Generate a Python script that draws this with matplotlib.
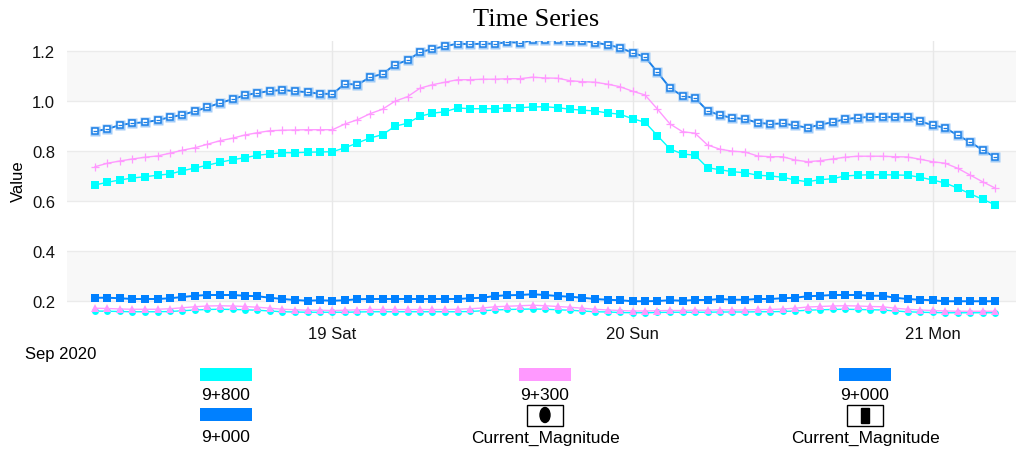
import pandas as pd
import matplotlib
matplotlib.use('Agg')
import matplotlib.pyplot as plt
from matplotlib.patches import Rectangle, Ellipse

plt.rcParams['font.family'] = ['Liberation Sans', 'DejaVu Sans']

# hourly readings, 18 Sep 05:00 -> 21 Sep 05:00
times = pd.date_range('2020-09-18 05:00', periods=73, freq='h')

s9800_top = [0.664, 0.675, 0.684, 0.692, 0.697, 0.703, 0.708, 0.721, 0.732, 0.743,
             0.755, 0.765, 0.773, 0.783, 0.788, 0.793, 0.793, 0.795, 0.796, 0.797,
             0.813, 0.832, 0.852, 0.865, 0.899, 0.911, 0.939, 0.951, 0.957, 0.972,
             0.969, 0.969, 0.969, 0.973, 0.973, 0.976, 0.977, 0.973, 0.967, 0.963,
             0.960, 0.952, 0.947, 0.929, 0.915, 0.861, 0.808, 0.788, 0.783, 0.733,
             0.725, 0.717, 0.713, 0.703, 0.700, 0.695, 0.684, 0.677, 0.685, 0.689,
             0.700, 0.703, 0.705, 0.705, 0.704, 0.703, 0.695, 0.684, 0.672, 0.652,
             0.629, 0.607, 0.585]
s9300_top = [0.737, 0.751, 0.760, 0.768, 0.775, 0.780, 0.791, 0.803, 0.813, 0.827,
             0.841, 0.851, 0.864, 0.873, 0.881, 0.883, 0.884, 0.885, 0.885, 0.885,
             0.908, 0.925, 0.949, 0.967, 0.999, 1.017, 1.051, 1.065, 1.075, 1.085,
             1.085, 1.087, 1.087, 1.089, 1.089, 1.095, 1.092, 1.091, 1.081, 1.077,
             1.075, 1.067, 1.057, 1.039, 1.024, 0.967, 0.908, 0.877, 0.871, 0.824,
             0.807, 0.799, 0.796, 0.780, 0.777, 0.777, 0.764, 0.757, 0.761, 0.768,
             0.775, 0.779, 0.779, 0.779, 0.777, 0.776, 0.767, 0.757, 0.751, 0.731,
             0.704, 0.677, 0.652]
s9000_top = [0.879, 0.888, 0.904, 0.911, 0.915, 0.923, 0.935, 0.945, 0.959, 0.975,
             0.992, 1.007, 1.023, 1.032, 1.040, 1.044, 1.039, 1.035, 1.029, 1.028,
             1.069, 1.065, 1.095, 1.108, 1.145, 1.163, 1.195, 1.208, 1.219, 1.229,
             1.227, 1.229, 1.229, 1.235, 1.233, 1.242, 1.242, 1.244, 1.241, 1.241,
             1.233, 1.225, 1.213, 1.193, 1.176, 1.115, 1.052, 1.020, 1.012, 0.961,
             0.943, 0.932, 0.928, 0.913, 0.908, 0.910, 0.902, 0.893, 0.905, 0.915,
             0.927, 0.933, 0.936, 0.936, 0.935, 0.935, 0.919, 0.903, 0.893, 0.863,
             0.836, 0.804, 0.775]
s9000_low = [0.213, 0.213, 0.211, 0.208, 0.208, 0.208, 0.211, 0.216, 0.221, 0.224,
             0.224, 0.224, 0.221, 0.219, 0.213, 0.208, 0.204, 0.201, 0.203, 0.201,
             0.203, 0.207, 0.208, 0.208, 0.208, 0.208, 0.208, 0.208, 0.208, 0.208,
             0.211, 0.213, 0.220, 0.223, 0.224, 0.227, 0.224, 0.220, 0.217, 0.213,
             0.208, 0.205, 0.203, 0.199, 0.199, 0.200, 0.203, 0.201, 0.204, 0.204,
             0.208, 0.205, 0.205, 0.208, 0.208, 0.211, 0.213, 0.219, 0.221, 0.224,
             0.224, 0.224, 0.221, 0.221, 0.213, 0.208, 0.205, 0.203, 0.199, 0.199,
             0.199, 0.199, 0.199]
s9300_low = [0.171, 0.170, 0.168, 0.167, 0.167, 0.167, 0.169, 0.173, 0.177, 0.180,
             0.181, 0.180, 0.178, 0.175, 0.171, 0.167, 0.165, 0.163, 0.163, 0.162,
             0.163, 0.165, 0.166, 0.166, 0.166, 0.166, 0.166, 0.166, 0.166, 0.167,
             0.169, 0.172, 0.177, 0.179, 0.181, 0.183, 0.181, 0.178, 0.175, 0.171,
             0.167, 0.164, 0.162, 0.160, 0.160, 0.161, 0.162, 0.162, 0.163, 0.163,
             0.165, 0.164, 0.164, 0.166, 0.166, 0.168, 0.171, 0.176, 0.178, 0.180,
             0.181, 0.180, 0.178, 0.177, 0.171, 0.167, 0.164, 0.162, 0.160, 0.159,
             0.159, 0.159, 0.159]
s9800_low = [0.160, 0.159, 0.158, 0.157, 0.157, 0.157, 0.158, 0.161, 0.164, 0.166,
             0.167, 0.166, 0.165, 0.163, 0.160, 0.157, 0.156, 0.155, 0.155, 0.155,
             0.155, 0.156, 0.157, 0.157, 0.157, 0.157, 0.157, 0.157, 0.157, 0.157,
             0.158, 0.161, 0.164, 0.166, 0.167, 0.168, 0.167, 0.165, 0.163, 0.160,
             0.157, 0.156, 0.154, 0.153, 0.153, 0.154, 0.155, 0.155, 0.155, 0.155,
             0.156, 0.156, 0.156, 0.157, 0.157, 0.158, 0.160, 0.163, 0.165, 0.166,
             0.167, 0.166, 0.165, 0.164, 0.160, 0.157, 0.155, 0.154, 0.153, 0.153,
             0.153, 0.153, 0.153]

day_ticks = ['2020-09-19', '2020-09-20', '2020-09-21']
day_labels = ['19 Sat', '20 Sun', '21 Mon']
y_ticks = [0.2, 0.4, 0.6, 0.8, 1.0, 1.2]
legend_labels = ['9+800', '9+300', '9+000', '9+000', 'Current_Magnitude', 'Current_Magnitude']

CYAN = '#00ffff'
PINK = '#ff99ff'
BLUE = '#0080ff'

fig = plt.figure(figsize=(10.16, 4.52), dpi=100)
ax = fig.add_axes([67 / 1016, 1 - 320 / 452, 949 / 1016, 278.3 / 452])

# striped background
for lo in [0.2, 0.6, 1.0]:
    ax.axhspan(lo, lo + 0.2, color='#f8f8f8', zorder=0, lw=0)
for yv in y_ticks:
    ax.axhline(yv, color='#ebebeb', lw=1, zorder=0.5)
for d in day_ticks:
    ax.axvline(pd.Timestamp(d), color='#e8e8e8', lw=1, zorder=0.5)

# upper group
ax.plot(times, s9800_top, color=CYAN, lw=1, marker='s', ms=5.6, mew=0, zorder=3)
ax.plot(times, s9300_top, color=PINK, lw=1, marker='+', ms=6, mew=0.9, zorder=3)
ax.plot(times, s9000_top, color='#1a80e8', lw=1.4, zorder=3)
ax.plot(times, s9000_top, ls='none', marker='s', ms=6.6, mfc='#8cc0f5', mec='none', alpha=0.8, zorder=3)
ax.plot(times, s9000_top, ls='none', marker='s', ms=4.8, mfc='white', mec='#1a7fe6', mew=1.1, zorder=4)
ax.plot(times, s9000_top, ls='none', marker='_', ms=3, mec='#1a7fe6', mew=0.9, zorder=4)

# lower group
ax.plot(times, s9000_low, color=BLUE, lw=1.4, marker='s', ms=5.4, mew=0, zorder=3)
ax.plot(times, s9800_low, color=CYAN, lw=1, marker='o', ms=5, mew=0, zorder=3)
ax.plot(times, s9300_low, color=PINK, lw=1, marker='^', ms=6.2, mew=0, zorder=3)

start = times[0]
ax.set_xlim(start - pd.Timedelta(hours=2.24), start + pd.Timedelta(hours=73.68))
ax.set_ylim(0.128, 1.241)
ax.set_yticks(y_ticks)
ax.set_yticklabels(['%.1f' % v for v in y_ticks])
ax.set_xticks([pd.Timestamp(d) for d in day_ticks])
ax.set_xticklabels(day_labels)
ax.tick_params(axis='both', length=0, labelsize=12, colors='#111111')
ax.tick_params(axis='y', pad=8.5)
ax.tick_params(axis='x', pad=5)
for sp in ax.spines.values():
    sp.set_visible(False)
ax.set_ylabel('Value', fontsize=12, va='center')
ax.yaxis.set_label_coords(-0.0516, 0.5)

fig.text(536 / 1016, 1 - 20 / 452, 'Time Series', family='Liberation Serif',
         fontsize=19, ha='center', va='center')
fig.text(25 / 1016, 1 - 355 / 452, 'Sep 2020', fontsize=12, ha='left', va='center')

# legend drawn in pixel space
lg = fig.add_axes([0, 0, 1, 1], facecolor='none')
lg.set_xlim(0, 1016)
lg.set_ylim(452, 0)
lg.axis('off')
cols = [226, 545, 865]
patch_colors = [CYAN, PINK, BLUE, BLUE]
for i, lab in enumerate(legend_labels):
    cx = cols[i % 3]
    row = i // 3
    py = 375.5 if row == 0 else 415.5
    ty = 396 if row == 0 else 438
    if i < 4:
        lg.add_patch(Rectangle((cx - 26, py - 6.5), 52, 13, color=patch_colors[i], lw=0))
    else:
        lg.add_patch(Rectangle((cx - 18, py - 10), 36, 21, fc='white', ec='black', lw=1))
        if i == 4:
            lg.add_patch(Ellipse((cx, py + 0.5), 10, 15, color='black'))
        else:
            lg.add_patch(Rectangle((cx - 4, py - 7), 8, 15, color='black'))
    lg.text(cx, ty, lab, fontsize=12.5, ha='center', va='center')

fig.savefig('out.png', dpi=100)
